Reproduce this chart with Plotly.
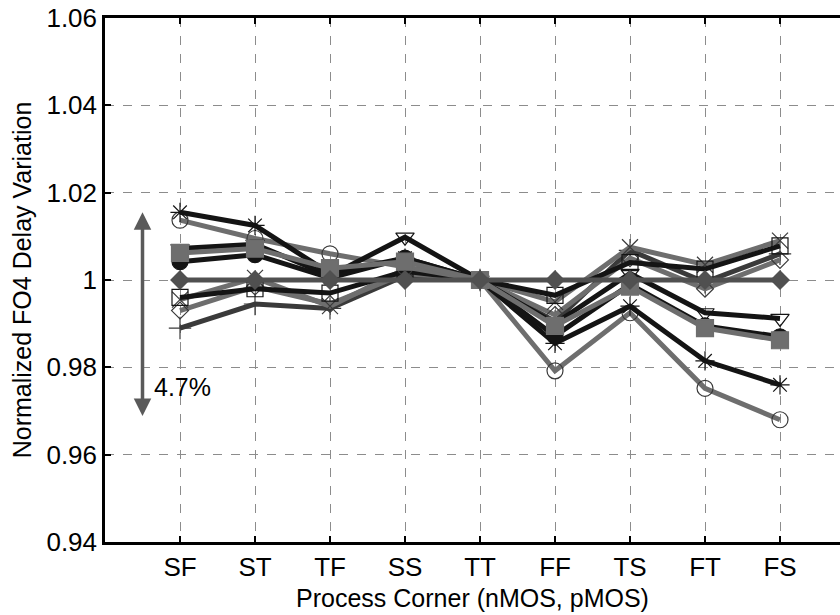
import plotly.graph_objects as go

corners = ["SF", "ST", "TF", "SS", "TT", "FF", "TS", "FT", "FS"]
xpos = [1, 2, 3, 4, 5, 6, 7, 8, 9]

ast_black = [1.0155, 1.0125, 1.0015, 1.0050, 1.000, 0.9855, 0.9940, 0.9815, 0.9760]
circ_open = [1.0137, 1.0095, 1.0060, 1.0030, 1.000, 0.9792, 0.9925, 0.9752, 0.9680]
circ_fill = [1.0042, 1.0058, 1.0005, 1.0050, 1.000, 0.9872, 0.9990, 0.9895, 0.9870]
sq_fill = [1.0062, 1.0072, 1.0027, 1.0042, 1.000, 0.9895, 0.9985, 0.9890, 0.9862]
tri_down = [1.0072, 1.0082, 1.0010, 1.0098, 1.000, 0.9900, 1.0015, 0.9925, 0.9912]
dia_fill = [1.000, 1.000, 1.000, 1.000, 1.000, 1.000, 1.000, 1.000, 1.000]
sq_open = [0.9960, 0.9980, 0.9970, 1.0020, 1.000, 0.9965, 1.0040, 1.0025, 1.0078]
x_mark = [0.9955, 1.0005, 0.9940, 1.0025, 1.000, 0.9950, 1.0075, 1.0035, 1.0090]
dia_open = [0.9930, 0.9985, 0.9945, 1.0015, 1.000, 0.9920, 1.0050, 0.9980, 1.0046]
plus_mark = [0.9890, 0.9945, 0.9935, 1.0010, 1.000, 0.9905, 1.0068, 0.9995, 1.0060]

yticks = [0.94, 0.96, 0.98, 1.00, 1.02, 1.04, 1.06]
ytick_text = ["0.94", "0.96", "0.98", "1", "1.02", "1.04", "1.06"]

BLACK = "#141414"
DARK = "#3a3a3a"
GRAY = "#6e6e6e"
FONT = "Liberation Sans, Arial, Helvetica, sans-serif"

series = [
    # values, line color, symbol, marker color, marker line color, size
    (plus_mark, DARK, "cross-thin-open", DARK, DARK, 16),
    (dia_open, GRAY, "diamond-open", DARK, DARK, 13),
    (x_mark, GRAY, "x-thin-open", DARK, DARK, 16),
    (sq_open, BLACK, "square-open", BLACK, BLACK, 16),
    (circ_open, GRAY, "circle-open", DARK, DARK, 16),
    (ast_black, BLACK, "asterisk-open", BLACK, BLACK, 16),
    (tri_down, BLACK, "triangle-down-open", BLACK, BLACK, 16),
    (circ_fill, BLACK, "circle", BLACK, BLACK, 16),
    (sq_fill, GRAY, "square", GRAY, GRAY, 17),
    (dia_fill, "#505050", "diamond", "#505050", "#505050", 14),
]

fig = go.Figure()
for vals, lc, sym, mc, mlc, sz in series:
    fig.add_trace(go.Scatter(
        x=xpos, y=vals, mode="lines+markers",
        line=dict(color=lc, width=5),
        marker=dict(symbol=sym, size=sz, color=mc,
                    line=dict(color=mlc, width=1.2)),
        showlegend=False,
    ))

# 4.7% span arrow
fig.add_annotation(x=0.5, y=1.0155, ax=0.5, ay=0.9685, xref="x", yref="y",
                   axref="x", ayref="y", text="", showarrow=True,
                   arrowhead=2, arrowside="end+start", arrowsize=1,
                   arrowwidth=3.5, arrowcolor="#5a5a5a")
fig.add_annotation(x=0.62, y=0.9755, xref="x", yref="y", text="4.7%",
                   showarrow=False, xanchor="left",
                   font=dict(family=FONT, size=25, color="black"))

fig.update_layout(
    width=840, height=615,
    margin=dict(l=105, r=0, t=18, b=73),
    paper_bgcolor="white", plot_bgcolor="white",
    font=dict(family=FONT, size=25, color="black"),
    xaxis=dict(
        range=[0, 9.8], tickmode="array", tickvals=xpos, ticktext=corners,
        showgrid=True, gridcolor="#8c8c8c", griddash="dash", gridwidth=1,
        showline=True, linecolor="black", linewidth=2.5, mirror="ticks",
        ticks="inside", ticklen=6, tickwidth=2, tickcolor="black",
        zeroline=False,
        title=dict(text="Process Corner (nMOS, pMOS)", standoff=9,
                   font=dict(size=25)),
        tickfont=dict(size=26),
    ),
    yaxis=dict(
        range=[0.94, 1.06], tickmode="array", tickvals=yticks, ticktext=ytick_text,
        showgrid=True, gridcolor="#8c8c8c", griddash="dash", gridwidth=1,
        showline=True, linecolor="black", linewidth=2.5, mirror=False,
        ticks="inside", ticklen=6, tickwidth=2, tickcolor="black",
        zeroline=False,
        title=dict(text="Normalized FO4 Delay Variation", standoff=8,
                   font=dict(size=25)),
        tickfont=dict(size=26),
    ),
)

fig.write_html("out.html")
